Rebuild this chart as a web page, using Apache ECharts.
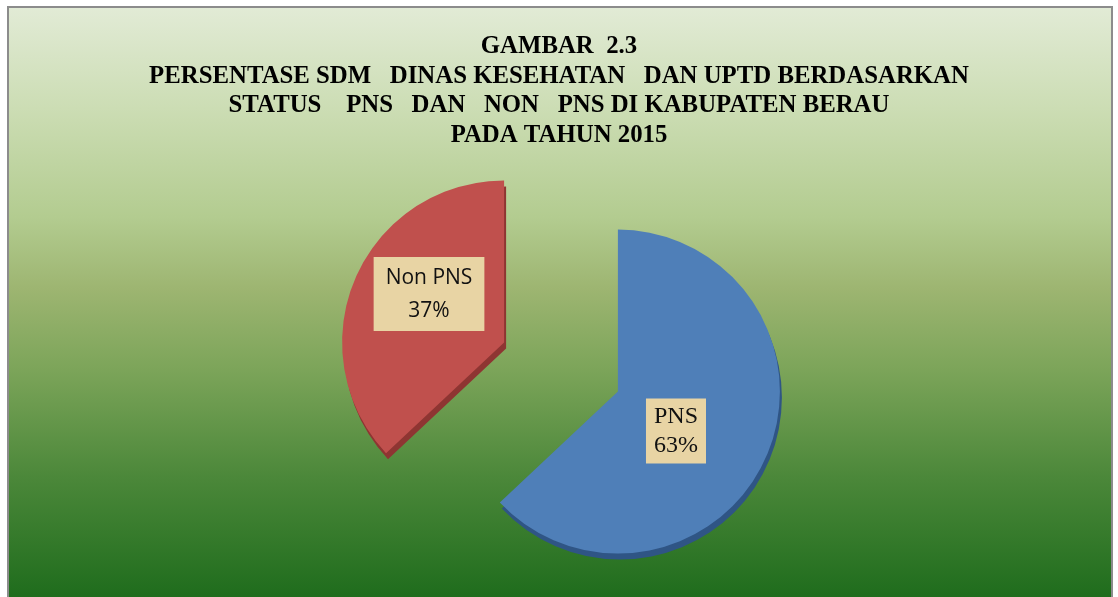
<!DOCTYPE html>
<html>
<head>
<meta charset="utf-8">
<script src="https://cdn.jsdelivr.net/npm/echarts@6/dist/echarts.min.js"></script>
<style>
  html, body { margin: 0; padding: 0; background: #fff; }
  #box { width: 1118px; height: 597px; }
</style>
</head>
<body>
<div id="box"></div>
<script>
// data
var categories = ['PNS', 'Non PNS'];
var percents = [63, 37];
var sliceColors = ['#4F7FB8', '#C0504D'];
var edgeColors = ['#2F5585', '#8E3532'];
var titleLines = [
  'GAMBAR  2.3',
  'PERSENTASE SDM   DINAS KESEHATAN   DAN UPTD BERDASARKAN',
  'STATUS    PNS   DAN   NON   PNS DI KABUPATEN BERAU',
  'PADA TAHUN 2015'
];

var labelStyles = [
  { fontFamily: 'Liberation Serif', fontSize: 24, lineHeight: 29, padding: [4, 8, 3, 8] },
  { fontFamily: 'Open Sans', fontSize: 21, lineHeight: 33, padding: [4, 12, 4, 12] }
];
// nudge labels to where the picture has them
var labelShift = [[-19, 6], [2, -15]];

function buildData(withLabels, colors) {
  return categories.map(function (name, i) {
    var item = {
      name: name,
      value: percents[i],
      selected: true,
      itemStyle: { color: colors[i] }
    };
    if (withLabels) {
      item.label = labelStyles[i];
    }
    return item;
  });
}

var chart = echarts.init(document.getElementById('box'));

var option = {
  backgroundColor: '#fff',
  animation: false,
  graphic: [{
    type: 'rect',
    z: -10,
    shape: { x: 8, y: 7, width: 1104, height: 600 },
    style: {
      fill: new echarts.graphic.LinearGradient(0, 0, 0, 1, [
        { offset: 0, color: '#E2EBD6' },
        { offset: 0.17, color: '#CCDDB4' },
        { offset: 0.35, color: '#B3CC90' },
        { offset: 0.47, color: '#9DB571' },
        { offset: 0.6, color: '#7DA55A' },
        { offset: 0.78, color: '#4C883A' },
        { offset: 1, color: '#1B6A1A' }
      ]),
      stroke: '#8C8C8C',
      lineWidth: 2
    }
  }],
  title: {
    text: titleLines.join('\n'),
    left: 'center',
    top: 27,
    textStyle: {
      fontFamily: 'Liberation Serif',
      fontWeight: 'bold',
      fontSize: 24.8,
      lineHeight: 29.5,
      color: '#000'
    }
  },
  series: [
    {
      // darker copy underneath gives the slices a little thickness
      type: 'pie',
      z: 1,
      silent: true,
      center: [563, 373],
      radius: 162,
      startAngle: 90,
      selectedMode: 'multiple',
      selectedOffset: 62,
      label: { show: false },
      labelLine: { show: false },
      emphasis: { disabled: true },
      data: buildData(false, edgeColors)
    },
    {
      type: 'pie',
      z: 2,
      center: [561, 367],
      radius: 162,
      startAngle: 90,
      selectedMode: 'multiple',
      selectedOffset: 62,
      emphasis: { disabled: true },
      labelLine: { show: false },
      label: {
        show: true,
        position: 'inside',
        formatter: '{b}\n{c}%',
        color: '#111',
        backgroundColor: '#E8D4A4',
        align: 'center'
      },
      labelLayout: function (params) {
        var s = labelShift[params.dataIndex];
        return { dx: s[0], dy: s[1] };
      },
      data: buildData(true, sliceColors)
    }
  ]
};

chart.setOption(option);
</script>
</body>
</html>
